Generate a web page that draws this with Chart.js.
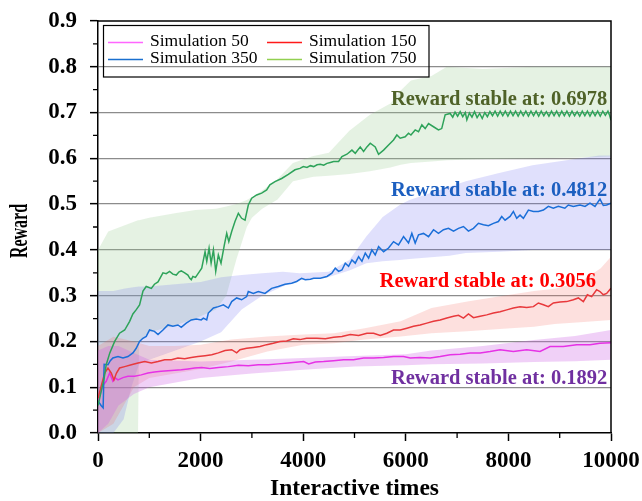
<!DOCTYPE html>
<html>
<head>
<meta charset="utf-8">
<script src="https://cdn.jsdelivr.net/npm/chart.js@4/dist/chart.umd.min.js"></script>
<style>
  html, body { margin: 0; padding: 0; background: #fff; }
  canvas { display: block; }
</style>
</head>
<body>
<canvas id="chart" width="642" height="501"></canvas>
<script>
// ---- data -------------------------------------------------------------
const seriesLabels = ['Simulation 50', 'Simulation 150', 'Simulation 350', 'Simulation 750'];
const stableValues = [0.1892, 0.3056, 0.4812, 0.6978];
const xTickValues = [0, 2000, 4000, 6000, 8000, 10000];
const yTickValues = [0.0, 0.1, 0.2, 0.3, 0.4, 0.5, 0.6, 0.7, 0.8, 0.9];

// mean reward: [interactive times, reward]
const sim50 = [
  [0,0.07],[100,0.105],[160,0.113],[227,0.131],[290,0.113],[340,0.12],[390,0.116],[487,0.121],
  [584,0.124],[714,0.124],[843,0.127],[973,0.131],[1100,0.133],[1230,0.135],[1364,0.136],
  [1493,0.137],[1623,0.138],[1753,0.14],[1883,0.142],[2022,0.143],[2180,0.141],[2346,0.143],
  [2541,0.145],[2736,0.148],[2930,0.147],[3125,0.149],[3320,0.149],[3515,0.151],[3710,0.153],
  [3904,0.155],[4010,0.156],[4106,0.151],[4236,0.155],[4398,0.156],[4593,0.158],[4788,0.16],
  [4982,0.16],[5177,0.164],[5372,0.164],[5567,0.165],[5761,0.167],[5956,0.167],[6086,0.164],
  [6280,0.165],[6475,0.164],[6670,0.167],[6865,0.171],[7059,0.172],[7254,0.175],[7449,0.175],
  [7643,0.178],[7838,0.182],[8097,0.178],[8357,0.182],[8617,0.178],[8812,0.189],[9071,0.189],
  [9331,0.193],[9590,0.193],[9785,0.196],[10000,0.197]
];
const sim150 = [
  [0,0.076],[80,0.11],[130,0.131],[194,0.142],[260,0.131],[310,0.116],[360,0.131],[420,0.142],
  [520,0.145],[650,0.149],[780,0.153],[910,0.156],[1040,0.153],[1170,0.156],[1300,0.16],
  [1430,0.16],[1558,0.164],[1690,0.162],[1818,0.165],[1948,0.167],[2087,0.169],[2217,0.171],
  [2346,0.175],[2476,0.18],[2606,0.182],[2703,0.175],[2768,0.182],[2898,0.185],[3028,0.187],
  [3158,0.189],[3288,0.193],[3417,0.196],[3547,0.2],[3677,0.201],[3807,0.206],[3937,0.204],
  [4066,0.207],[4269,0.207],[4431,0.206],[4593,0.209],[4755,0.211],[4917,0.215],[5080,0.213],
  [5242,0.218],[5372,0.218],[5502,0.213],[5631,0.218],[5761,0.225],[5891,0.225],[6021,0.229],
  [6151,0.233],[6280,0.236],[6410,0.24],[6540,0.244],[6670,0.247],[6800,0.251],[6930,0.255],
  [7027,0.257],[7124,0.251],[7221,0.26],[7319,0.252],[7449,0.255],[7578,0.258],[7708,0.262],
  [7838,0.265],[7968,0.269],[8097,0.273],[8227,0.276],[8357,0.274],[8487,0.276],[8584,0.284],
  [8682,0.28],[8779,0.276],[8876,0.284],[9006,0.286],[9136,0.287],[9266,0.291],[9363,0.295],
  [9461,0.287],[9539,0.302],[9623,0.298],[9720,0.313],[9785,0.309],[9850,0.302],[9915,0.305],
  [10000,0.316]
];
const sim350 = [
  [0,0.07],[60,0.06],[100,0.055],[120,0.15],[194,0.149],[240,0.158],[290,0.164],[390,0.167],
  [487,0.164],[584,0.167],[681,0.175],[745,0.185],[810,0.2],[875,0.207],[940,0.211],[1005,0.225],
  [1100,0.222],[1170,0.215],[1266,0.225],[1364,0.236],[1460,0.233],[1558,0.236],[1623,0.231],
  [1720,0.24],[1818,0.247],[1915,0.249],[2012,0.247],[2054,0.251],[2119,0.247],[2150,0.262],
  [2250,0.273],[2346,0.276],[2444,0.28],[2541,0.273],[2606,0.287],[2703,0.295],[2800,0.291],
  [2898,0.298],[2930,0.309],[3028,0.305],[3125,0.309],[3255,0.305],[3385,0.316],[3515,0.32],
  [3645,0.325],[3775,0.327],[3872,0.331],[3969,0.338],[4040,0.335],[4140,0.336],[4204,0.338],
  [4333,0.338],[4463,0.342],[4560,0.349],[4625,0.36],[4690,0.353],[4755,0.356],[4820,0.371],
  [4885,0.364],[4950,0.378],[5015,0.371],[5080,0.385],[5145,0.375],[5210,0.393],[5275,0.382],
  [5339,0.4],[5404,0.389],[5469,0.407],[5567,0.396],[5664,0.404],[5761,0.418],[5858,0.411],
  [5956,0.429],[6053,0.415],[6118,0.436],[6183,0.415],[6248,0.433],[6345,0.436],[6443,0.429],
  [6540,0.444],[6637,0.436],[6735,0.444],[6832,0.447],[6930,0.441],[7027,0.447],[7124,0.451],
  [7221,0.441],[7319,0.447],[7416,0.458],[7514,0.455],[7611,0.453],[7708,0.458],[7805,0.462],
  [7870,0.473],[7935,0.465],[8033,0.473],[8097,0.484],[8162,0.469],[8227,0.476],[8292,0.469],
  [8390,0.487],[8487,0.484],[8584,0.484],[8682,0.487],[8779,0.495],[8876,0.491],[8974,0.495],
  [9100,0.491],[9168,0.498],[9266,0.495],[9396,0.498],[9494,0.495],[9590,0.502],[9688,0.495],
  [9785,0.511],[9850,0.497],[9915,0.498],[10000,0.502]
];
const sim750 = [
  [0,0.06],[60,0.09],[120,0.12],[160,0.149],[230,0.175],[325,0.2],[420,0.218],[520,0.225],
  [617,0.244],[680,0.26],[750,0.27],[810,0.28],[877,0.31],[940,0.32],[1040,0.316],[1100,0.325],
  [1170,0.33],[1266,0.35],[1330,0.348],[1396,0.353],[1460,0.347],[1526,0.345],[1580,0.352],
  [1623,0.354],[1690,0.35],[1753,0.345],[1790,0.338],[1818,0.335],[1850,0.342],[1900,0.34],
  [1980,0.353],[2022,0.36],[2087,0.396],[2120,0.375],[2165,0.404],[2205,0.371],[2250,0.4],
  [2295,0.353],[2346,0.389],[2398,0.371],[2463,0.411],[2509,0.436],[2550,0.418],[2606,0.44],
  [2670,0.462],[2736,0.48],[2800,0.469],[2866,0.465],[2930,0.498],[2996,0.513],[3093,0.52],
  [3190,0.524],[3288,0.531],[3350,0.542],[3450,0.549],[3580,0.556],[3710,0.565],[3840,0.575],
  [3937,0.578],[4002,0.582],[4074,0.58],[4140,0.584],[4204,0.582],[4270,0.586],[4333,0.587],
  [4400,0.585],[4463,0.589],[4530,0.591],[4593,0.593],[4690,0.593],[4755,0.604],[4853,0.609],
  [4950,0.618],[5015,0.611],[5112,0.625],[5177,0.615],[5242,0.625],[5307,0.633],[5404,0.625],
  [5469,0.609],[5567,0.618],[5664,0.629],[5761,0.64],[5826,0.651],[5891,0.644],[5988,0.647],
  [6053,0.655],[6100,0.651],[6183,0.662],[6248,0.658],[6313,0.673],[6378,0.665],[6443,0.676],
  [6540,0.669],[6637,0.662],[6700,0.665],[6767,0.695],[6865,0.698],[6915,0.69],[6960,0.701],
  [7010,0.692],[7060,0.702],[7110,0.691],[7160,0.7],[7190,0.684],[7240,0.699],[7290,0.69],
  [7340,0.702],[7390,0.689],[7440,0.698],[7490,0.687],[7540,0.7],[7590,0.691],[7640,0.702],
  [7690,0.693],[7740,0.703],[7790,0.692],[7840,0.703],[7890,0.693],[7940,0.703],[7990,0.692],
  [8040,0.703],[8090,0.693],[8140,0.703],[8190,0.692],[8240,0.703],[8290,0.693],[8340,0.703],
  [8390,0.692],[8440,0.703],[8490,0.693],[8540,0.703],[8590,0.692],[8640,0.703],[8690,0.693],
  [8740,0.702],[8790,0.692],[8840,0.703],[8890,0.693],[8940,0.703],[8990,0.692],[9040,0.703],
  [9090,0.693],[9140,0.703],[9190,0.692],[9240,0.703],[9290,0.693],[9340,0.702],[9390,0.692],
  [9440,0.703],[9490,0.693],[9540,0.703],[9590,0.692],[9640,0.703],[9690,0.693],[9740,0.703],
  [9790,0.692],[9840,0.703],[9890,0.694],[9940,0.703],[9970,0.695],[10000,0.683]
];

// spread around the mean: [interactive times, upper, lower]
const sim50Band = [
  [0,0.18,0.0],[200,0.19,0.02],[400,0.19,0.06],[700,0.175,0.085],[1000,0.16,0.1],
  [2000,0.156,0.12],[3000,0.16,0.13],[4000,0.164,0.138],[5000,0.168,0.145],[6000,0.172,0.148],
  [6500,0.18,0.15],[7500,0.19,0.152],[8500,0.203,0.155],[9300,0.212,0.157],[10000,0.225,0.16]
];
const sim150Band = [
  [0,0.19,0.0],[300,0.21,0.02],[700,0.2,0.1],[1000,0.19,0.12],[1500,0.19,0.13],
  [2000,0.193,0.14],[2600,0.204,0.156],[3300,0.211,0.178],[4000,0.215,0.193],[4600,0.218,0.196],
  [5200,0.229,0.204],[5900,0.244,0.211],[6500,0.273,0.218],[7200,0.287,0.222],[7900,0.3,0.228],
  [8500,0.31,0.232],[8900,0.315,0.238],[9400,0.33,0.242],[9800,0.36,0.245],[10000,0.385,0.247]
];
const sim350Band = [
  [0,0.31,0.0],[300,0.31,0.0],[500,0.315,0.03],[650,0.318,0.1],[800,0.32,0.15],
  [1000,0.32,0.16],[2000,0.33,0.2],[2400,0.34,0.22],[2800,0.345,0.27],[3200,0.349,0.3],
  [3600,0.352,0.32],[3930,0.349,0.334],[4500,0.352,0.341],[4900,0.378,0.355],[5230,0.429,0.371],
  [5550,0.472,0.375],[5880,0.498,0.378],[6070,0.509,0.38],[6850,0.538,0.387],[7170,0.55,0.393],
  [7820,0.568,0.396],[8470,0.585,0.4],[9200,0.597,0.4],[9770,0.606,0.4],[10000,0.606,0.4]
];
const sim750Band = [
  [0,0.4,0.0],[200,0.44,0.0],[780,0.465,0.0],[800,0.465,0.2],[1000,0.47,0.22],
  [1500,0.48,0.235],[1900,0.487,0.25],[2300,0.49,0.27],[2500,0.495,0.3],[2700,0.5,0.38],
  [2900,0.509,0.45],[3000,0.515,0.47],[3200,0.53,0.49],[3500,0.555,0.51],[3800,0.59,0.55],
  [4200,0.605,0.56],[4500,0.612,0.562],[4900,0.66,0.566],[5300,0.695,0.572],[5700,0.72,0.58],
  [5900,0.748,0.586],[6100,0.77,0.59],[6500,0.78,0.593],[6800,0.8,0.596],[7500,0.795,0.598],
  [8500,0.8,0.6],[9500,0.8,0.602],[10000,0.8,0.604]
];

// ---- styling ------------------------------------------------------------
const FONT = "'Liberation Serif', 'Times New Roman', serif";
const lineColors   = ['#e632e6', '#e8393c', '#1b6fd8', '#2ea35a'];
const legendColors = ['#ff66ff', '#ff1a1a', '#1a6fcf', '#92d050'];
const bandColors   = ['rgba(205,99,228,0.30)', 'rgba(245,100,90,0.20)',
                      'rgba(100,100,240,0.20)', 'rgba(151,203,143,0.25)'];
const noteColors   = ['#7030a0', '#ff0000', '#1c5fc0', '#4f6228'];

const means = [sim50, sim150, sim350, sim750];
const bands = [sim50Band, sim150Band, sim350Band, sim750Band];

const toPoints = (rows, col) => rows.map(r => ({ x: r[0], y: r[col] }));

const datasets = [];
// bands first (green underneath, magenta on top)
for (let i = 3; i >= 0; i--) {
  datasets.push({
    label: seriesLabels[i] + ' upper',
    data: toPoints(bands[i], 1),
    borderWidth: 0, pointRadius: 0, fill: '+1',
    backgroundColor: bandColors[i], order: 20 + i
  });
  datasets.push({
    label: seriesLabels[i] + ' lower',
    data: toPoints(bands[i], 2),
    borderWidth: 0, pointRadius: 0, fill: false, order: 20 + i
  });
}
// mean curves
for (let i = 0; i < 4; i++) {
  datasets.push({
    label: seriesLabels[i],
    data: toPoints(means[i], 1),
    borderColor: lineColors[i], borderWidth: 1.5, pointRadius: 0,
    fill: false, tension: 0, order: 10 - i,
    legendColor: legendColors[i]
  });
}

// frame, minor ticks, y title, notes and legend box
const decorations = {
  id: 'decorations',
  afterDraw(chart) {
    const { ctx, chartArea: { left, right, top, bottom }, scales: { x, y } } = chart;
    ctx.save();

    // top and right edges of the plot box
    ctx.strokeStyle = '#000';
    ctx.lineWidth = 1.5;
    ctx.beginPath();
    ctx.moveTo(left, top); ctx.lineTo(right, top); ctx.lineTo(right, bottom);
    ctx.stroke();

    // minor ticks halfway between labelled ticks
    ctx.lineWidth = 1.3;
    ctx.beginPath();
    for (let k = 0; k < xTickValues.length - 1; k++) {
      const px = x.getPixelForValue((xTickValues[k] + xTickValues[k + 1]) / 2);
      ctx.moveTo(px, bottom); ctx.lineTo(px, bottom + 5);
    }
    for (let k = 0; k < yTickValues.length - 1; k++) {
      const py = y.getPixelForValue((yTickValues[k] + yTickValues[k + 1]) / 2);
      ctx.moveTo(left, py); ctx.lineTo(left - 5, py);
    }
    ctx.stroke();

    // y axis title, set in a condensed bold face
    ctx.font = `bold 25px ${FONT}`;
    const titleW = ctx.measureText('Reward').width;
    ctx.save();
    ctx.translate(21, (top + bottom) / 2 + 4);
    ctx.rotate(-Math.PI / 2);
    ctx.scale(54 / titleW, 1);
    ctx.fillStyle = '#000';
    ctx.textAlign = 'center';
    ctx.textBaseline = 'middle';
    ctx.fillText('Reward', 0, 0);
    ctx.restore();

    // "Reward stable at" notes
    const notePos = [[9928, 0.107], [9707, 0.3196], [9928, 0.5177], [9928, 0.7165]];
    ctx.font = `bold 20.5px ${FONT}`;
    ctx.textAlign = 'right';
    ctx.textBaseline = 'alphabetic';
    stableValues.forEach((v, i) => {
      ctx.fillStyle = noteColors[i];
      ctx.fillText('Reward stable at: ' + v.toFixed(4),
        x.getPixelForValue(notePos[i][0]), y.getPixelForValue(notePos[i][1]));
    });

    // legend box
    ctx.strokeStyle = '#000';
    ctx.lineWidth = 1.2;
    ctx.strokeRect(103.5, 25.5, 325.5, 51.5);
    const entries = chart.data.datasets.filter(d => d.legendColor);
    const cols = [108, 267], rows = [42.5, 59.5];
    ctx.font = `17.5px ${FONT}`;
    ctx.textAlign = 'left';
    ctx.textBaseline = 'middle';
    entries.forEach((d, i) => {
      const cx = cols[i % 2], cy = rows[Math.floor(i / 2)];
      ctx.strokeStyle = d.legendColor;
      ctx.lineWidth = 1.5;
      ctx.beginPath(); ctx.moveTo(cx, cy); ctx.lineTo(cx + 35, cy); ctx.stroke();
      ctx.fillStyle = '#000';
      ctx.fillText(d.label, cx + 42, cy - 1.5);
    });
    ctx.restore();
  }
};

new Chart(document.getElementById('chart'), {
  type: 'line',
  data: { datasets },
  options: {
    responsive: false,
    animation: false,
    devicePixelRatio: 1,
    layout: { padding: { top: 21, right: 31, bottom: 0, left: 0 } },
    plugins: { legend: { display: false }, tooltip: { enabled: false } },
    scales: {
      x: {
        type: 'linear', min: 0, max: 10000,
        afterFit(scale) {
          scale.height = 68;
          scale.paddingLeft = 0; scale.paddingRight = 0;
        },
        afterBuildTicks(scale) { scale.ticks = xTickValues.map(v => ({ value: v })); },
        ticks: {
          autoSkip: false, maxRotation: 0, padding: 6, color: '#000',
          font: { family: FONT, size: 23, weight: 'bold' },
          callback: v => String(v)
        },
        grid: { drawOnChartArea: false, drawTicks: true, tickLength: 8, tickWidth: 1.5, tickColor: '#000' },
        border: { color: '#000', width: 1.5 },
        title: {
          display: true, text: 'Interactive times', color: '#000',
          font: { family: FONT, size: 23.5, weight: 'bold', lineHeight: 1 },
          padding: 0
        }
      },
      y: {
        min: 0, max: 0.9,
        afterFit(scale) {
          scale.width = 98;
          scale.paddingTop = 0; scale.paddingBottom = 0;
        },
        afterBuildTicks(scale) { scale.ticks = yTickValues.map(v => ({ value: v })); },
        ticks: {
          autoSkip: false, padding: 13, color: '#000',
          font: { family: FONT, size: 23, weight: 'bold' },
          callback: v => Number(v).toFixed(1)
        },
        grid: {
          color: c => (c.tick && c.tick.value > 0.05 && c.tick.value < 0.85) ? '#8c8c8c' : 'rgba(0,0,0,0)',
          lineWidth: 1.3,
          drawTicks: true, tickLength: 8, tickWidth: 1.5, tickColor: '#000'
        },
        border: { color: '#000', width: 1.5 },
        title: { display: false }
      }
    }
  },
  plugins: [decorations]
});
</script>
</body>
</html>
